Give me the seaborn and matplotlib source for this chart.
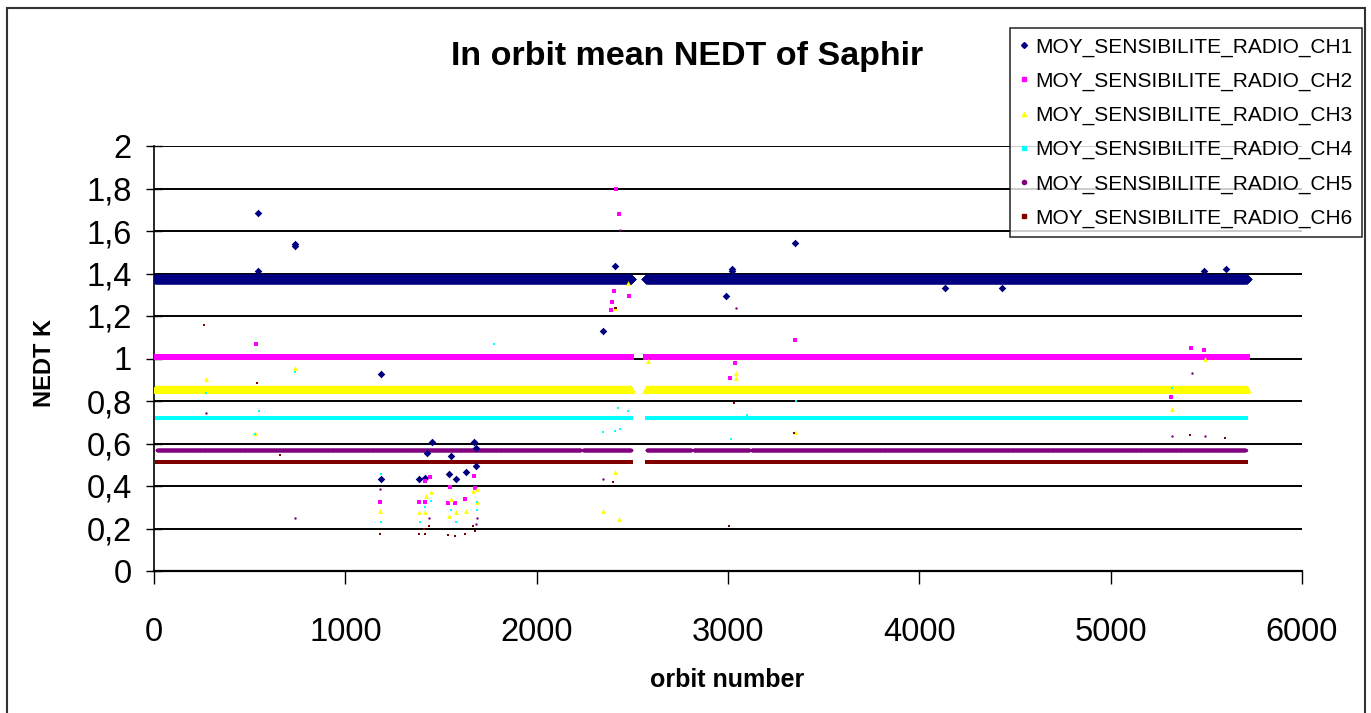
import numpy as np
import pandas as pd
import matplotlib
matplotlib.use("Agg")
import matplotlib.pyplot as plt
from matplotlib.lines import Line2D
from matplotlib.patches import Rectangle
import seaborn as sns

# ---------------- data ----------------
channels = ["MOY_SENSIBILITE_RADIO_CH1", "MOY_SENSIBILITE_RADIO_CH2",
            "MOY_SENSIBILITE_RADIO_CH3", "MOY_SENSIBILITE_RADIO_CH4",
            "MOY_SENSIBILITE_RADIO_CH5", "MOY_SENSIBILITE_RADIO_CH6"]
colors = ["#000080", "#FF00FF", "#FFFF00", "#00FFFF", "#800080", "#800000"]
markers = ["D", "s", "^", "s", "o", "s"]

# typical (band) NEDT level of each channel, K
band_levels = [1.372, 1.007, 0.856, 0.720, 0.569, 0.513]

# orbit ranges where the channels were recorded
ranges_ch123 = [(5, 2495), (2572, 5712)]
ranges_ch456 = [(15, 2230), (2242, 2493), (2575, 2808), (2820, 3112), (3122, 5705)]
channel_ranges = [ranges_ch123, ranges_ch123, ranges_ch123,
                  ranges_ch456, ranges_ch456, ranges_ch456]

# isolated points away from the bands
ch1_out_x = [544, 544, 737, 737, 1186, 1186, 1385, 1417, 1426, 1452, 1543, 1552, 1579,
             1631, 1672, 1683, 1683, 2347, 2410, 2990, 3021, 3021, 3350, 4134, 4432,
             5488, 5603]
ch1_out_y = [1.685, 1.41, 1.53, 1.54, 0.926, 0.433, 0.433, 0.439, 0.557, 0.607, 0.456,
             0.543, 0.433, 0.465, 0.607, 0.578, 0.496, 1.13, 1.435, 1.295, 1.41, 1.42,
             1.545, 1.33, 1.33, 1.41, 1.42]
ch2_out_x = [533, 1181, 1385, 1417, 1417, 1443, 1537, 1547, 1573, 1625, 1672, 1678,
             2389, 2394, 2404, 2415, 2431, 2483, 3010, 3037, 3350, 5315, 5420, 5488]
ch2_out_y = [1.07, 0.326, 0.326, 0.325, 0.424, 0.444, 0.322, 0.397, 0.322, 0.339,
             0.449, 0.39, 1.228, 1.266, 1.319, 1.798, 1.68, 1.296, 0.908, 0.979,
             1.087, 0.82, 1.049, 1.04]
ch3_out_x = [272, 528, 737, 1181, 1385, 1417, 1421, 1448, 1542, 1552, 1578, 1631, 1667,
             1688, 1688, 2347, 2409, 2412, 2430, 2478, 2582, 3042, 3042, 3350, 5320, 5493]
ch3_out_y = [0.903, 0.651, 0.955, 0.284, 0.278, 0.278, 0.354, 0.37, 0.26, 0.339, 0.278,
             0.284, 0.378, 0.323, 0.387, 0.284, 0.465, 1.238, 0.245, 1.355, 0.988,
             0.908, 0.93, 0.656, 0.762, 0.998]
ch4_out_x = [272, 528, 549, 737, 1186, 1186, 1390, 1417, 1448, 1552, 1578, 1688, 1688,
             1777, 2347, 2409, 2426, 2436, 2478, 3016, 3099, 3355, 5320]
ch4_out_y = [0.839, 0.645, 0.753, 0.938, 0.456, 0.229, 0.229, 0.30, 0.33, 0.287, 0.229,
             0.287, 0.326, 1.068, 0.653, 0.66, 0.769, 0.667, 0.753, 0.62, 0.734, 0.80,
             0.863]
ch5_out_x = [272, 737, 1181, 1437, 1683, 1688, 2347, 2436, 3042, 5320, 5425, 5493]
ch5_out_y = [0.745, 0.251, 0.386, 0.249, 0.22, 0.25, 0.433, 1.605, 1.239, 0.637,
             0.933, 0.637]
ch6_out_x = [261, 538, 659, 1181, 1385, 1412, 1417, 1437, 1537, 1573, 1625, 1667, 1678,
             2400, 2409, 2415, 3005, 3031, 3345, 5415, 5598]
ch6_out_y = [1.156, 0.883, 0.547, 0.174, 0.174, 0.20, 0.174, 0.21, 0.17, 0.166, 0.173,
             0.21, 0.19, 0.42, 1.238, 1.238, 0.213, 0.79, 0.651, 0.64, 0.625]

outliers_x = [ch1_out_x, ch2_out_x, ch3_out_x, ch4_out_x, ch5_out_x, ch6_out_x]
outliers_y = [ch1_out_y, ch2_out_y, ch3_out_y, ch4_out_y, ch5_out_y, ch6_out_y]

x_ticks = [0, 1000, 2000, 3000, 4000, 5000, 6000]
y_ticks = [0, 0.2, 0.4, 0.6, 0.8, 1.0, 1.2, 1.4, 1.6, 1.8, 2.0]
y_tick_labels = ["0", "0,2", "0,4", "0,6", "0,8", "1", "1,2", "1,4", "1,6", "1,8", "2"]

# ---------------- build tables ----------------
band_rows = []
for ch, lvl, rngs in zip(channels, band_levels, channel_ranges):
    for a, b in rngs:
        orb = np.arange(a, b + 1)
        band_rows.append(pd.DataFrame({"orbit": orb, "nedt": lvl, "channel": ch}))
bands = pd.concat(band_rows, ignore_index=True)

out_rows = []
for ch, xs, ys in zip(channels, outliers_x, outliers_y):
    out_rows.append(pd.DataFrame({"orbit": xs, "nedt": ys, "channel": ch}))
outs = pd.concat(out_rows, ignore_index=True)

# ---------------- drawing ----------------
sns.set_theme(style="white")
plt.rcParams["font.family"] = ["Liberation Sans", "DejaVu Sans"]

W, H = 1371, 713
fig = plt.figure(figsize=(W / 100, H / 100), dpi=100)
fig.patch.set_facecolor("white")
ax = fig.add_axes([154 / W, 1 - 571 / H, (1302 - 154) / W, (571 - 146) / H])
ax.set_facecolor("white")

band_sizes = [26, 24, 30, 6, 6, 8]
out_sizes = [15, 9, 12, 3, 3, 4]

for i, ch in enumerate(channels):
    sub = bands[bands["channel"] == ch]
    sns.scatterplot(data=sub, x="orbit", y="nedt", ax=ax, color=colors[i],
                    marker=markers[i], s=band_sizes[i], linewidth=0,
                    legend=False, zorder=3 + i)
for i, ch in enumerate(channels):
    sub = outs[outs["channel"] == ch]
    sns.scatterplot(data=sub, x="orbit", y="nedt", ax=ax, color=colors[i],
                    marker=markers[i], s=out_sizes[i], linewidth=0,
                    legend=False, zorder=10 + i)

ax.set_xlim(0, 6000)
ax.set_ylim(0, 2)
ax.set_xticks(x_ticks)
ax.set_xticklabels([str(t) for t in x_ticks])
ax.set_yticks(y_ticks)
ax.set_yticklabels(y_tick_labels)
ax.set_xlabel("")
ax.set_ylabel("")

ax.yaxis.grid(True, color="black", linewidth=1.4)
ax.xaxis.grid(False)
ax.set_axisbelow(True)

for s in ["top", "right"]:
    ax.spines[s].set_visible(False)
ax.spines["left"].set_color("black")
ax.spines["left"].set_linewidth(1.2)
ax.spines["bottom"].set_color("black")
ax.spines["bottom"].set_linewidth(1.6)

ax.tick_params(axis="y", direction="inout", length=12, width=1.0, color="black",
               labelsize=23.5, pad=10, left=True)
ax.tick_params(axis="x", direction="out", length=9, width=1.0, color="black",
               labelsize=23.5, pad=24, bottom=True)
for lab in ax.get_xticklabels() + ax.get_yticklabels():
    lab.set_color("black")

fig.text(687 / W, 1 - 57 / H, "In orbit mean NEDT of Saphir", ha="center",
         va="center", fontsize=24.5, fontweight="bold", color="black")
fig.text(727 / W, 1 - 680 / H, "orbit number", ha="center", va="center",
         fontsize=18, fontweight="bold", color="black")
fig.text(45 / W, 1 - 363 / H, "NEDT K", ha="center", va="center", rotation=90,
         fontsize=17, fontweight="bold", color="black")

handles = [Line2D([0], [0], linestyle="none", marker=markers[i], color=colors[i],
                  markersize=3) for i in range(len(channels))]
leg = fig.legend(handles, channels, loc="upper left",
                 bbox_to_anchor=(1010 / W, 1 - 28 / H), frameon=True,
                 fancybox=False, fontsize=15, handlelength=0.4,
                 handletextpad=0.35, labelspacing=0.72, borderpad=0.45,
                 borderaxespad=0)
leg.get_frame().set_edgecolor("black")
leg.get_frame().set_linewidth(1.2)
for t in leg.get_texts():
    t.set_color("black")

fig.patches.append(Rectangle((7 / W, -0.05), (1365 - 7) / W, 1.05 - 8 / H,
                             transform=fig.transFigure, fill=False,
                             edgecolor="#333333", linewidth=1.5))

fig.savefig("out.png", dpi=100, facecolor="white")
